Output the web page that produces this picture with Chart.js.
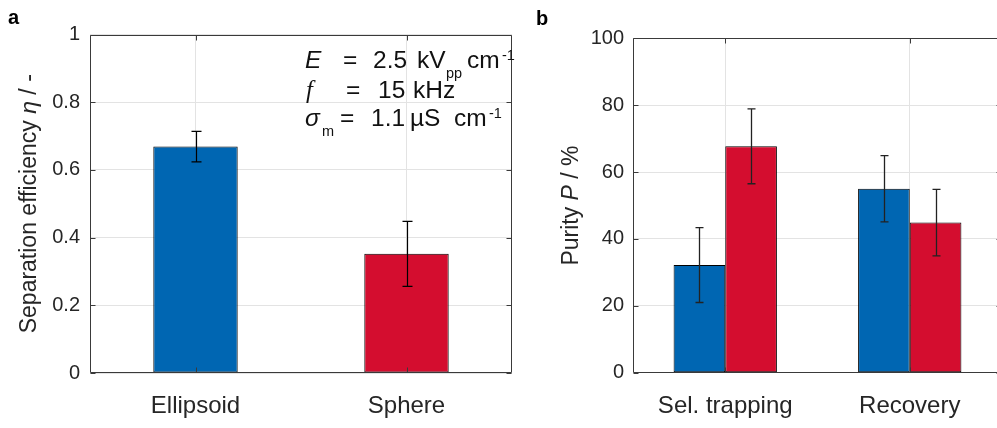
<!DOCTYPE html>
<html>
<head>
<meta charset="utf-8">
<script src="https://cdn.jsdelivr.net/npm/chart.js@4"></script>
<style>
  html, body { margin: 0; padding: 0; background: #fff; width: 997px; height: 428px; overflow: hidden; }
  .panel { position: absolute; top: 0; height: 428px; }
  #panelA { left: 0; width: 530px; }
  #panelB { left: 530px; width: 472px; }
</style>
</head>
<body>
<div class="panel" id="panelA"><canvas id="graficaA"></canvas></div>
<div class="panel" id="panelB"><canvas id="graficaB"></canvas></div>
<script>
/* ---------- datos ---------- */
// panel a: eficiencia de separacion
const categoriasA = ['Ellipsoid', 'Sphere'];
const eficiencia = [0.669, 0.352];
const eficienciaErr = [0.045, 0.096];
const ticksA = [0, 0.2, 0.4, 0.6, 0.8, 1];

// panel b: pureza
const categoriasB = ['Sel. trapping', 'Recovery'];
const purezaAzul = [32.2, 55.0];
const purezaAzulErr = [11.2, 9.9];
const purezaRoja = [67.7, 44.9];
const purezaRojaErr = [11.2, 9.95];
const ticksB = [0, 20, 40, 60, 80, 100];

/* ---------- estilo ---------- */
const FUENTE = '"Liberation Sans", Arial, Helvetica, sans-serif';
const SERIF = '"Liberation Serif", "Times New Roman", serif';
const AZUL = '#0066b2';
const ROJO = '#d40d2f';
const BORDE_BARRA = '#000';
const TEXTO = '#262626';
const GRID = '#e3e3e3';
const MARCO = '#3a3a3a';

/* texto con tramos (cursiva, sub/superindice) en x fijas */
function dibujarTramos(ctx, tramos, y, size) {
  tramos.forEach(t => {
    const s = t.sub || t.sup ? 14.5 : size;
    const fam = t.serif ? SERIF : FUENTE;
    ctx.font = `${t.it ? 'italic ' : ''}${s}px ${fam}`;
    const dy = t.sub ? 10 : t.sup ? -8 : 0;
    ctx.fillText(t.t, t.x, y + dy);
  });
}

function dibujarRotado(ctx, tramos, cx, cy, size) {
  // mide y centra sobre cy, texto de abajo hacia arriba
  let total = 0;
  const med = tramos.map(t => {
    ctx.font = `${t.it ? 'italic ' : ''}${size}px ${FUENTE}`;
    const w = ctx.measureText(t.t).width;
    total += w;
    return w;
  });
  ctx.save();
  ctx.translate(cx, cy);
  ctx.rotate(-Math.PI / 2);
  ctx.textBaseline = 'alphabetic';
  ctx.textAlign = 'left';
  let x = -total / 2;
  tramos.forEach((t, i) => {
    ctx.font = `${t.it ? 'italic ' : ''}${size}px ${FUENTE}`;
    ctx.fillText(t.t, x, 0);
    x += med[i];
  });
  ctx.restore();
}

/* ---------- plugins ---------- */
const barrasError = {
  id: 'barrasError',
  afterDatasetsDraw(chart, args, opts) {
    const { ctx } = chart;
    const y = chart.scales.y;
    chart.data.datasets.forEach((ds, i) => {
      const meta = chart.getDatasetMeta(i);
      meta.data.forEach((bar, j) => {
        const v = ds.data[j], e = ds.errores[j];
        const yHi = y.getPixelForValue(v + e);
        const yLo = y.getPixelForValue(v - e);
        const x = Math.round(bar.x) + 0.5;
        ctx.save();
        ctx.strokeStyle = opts.color || '#000';
        ctx.lineWidth = opts.ancho || 1.2;
        ctx.beginPath();
        ctx.moveTo(x, yHi); ctx.lineTo(x, yLo);
        ctx.moveTo(x - opts.cap, yHi); ctx.lineTo(x + opts.cap, yHi);
        ctx.moveTo(x - opts.cap, yLo); ctx.lineTo(x + opts.cap, yLo);
        ctx.stroke();
        ctx.restore();
      });
    });
  }
};

// marco tipo MATLAB con marcas hacia dentro
const marco = {
  id: 'marco',
  afterDraw(chart, args, opts) {
    const { ctx, chartArea: a } = chart;
    const L = 5;
    ctx.save();
    ctx.strokeStyle = MARCO;
    ctx.lineWidth = 1;
    ctx.beginPath();
    const l = Math.round(a.left) + 0.5, r = Math.round(a.right) - 0.5;
    const t = Math.round(a.top) + 0.5, b = Math.round(a.bottom) - 0.5;
    ctx.moveTo(l, t); ctx.lineTo(r, t); ctx.lineTo(r, b); ctx.lineTo(l, b); ctx.closePath();
    chart.scales.y.ticks.forEach(tk => {
      const p = Math.round(chart.scales.y.getPixelForValue(tk.value)) + 0.5;
      ctx.moveTo(l, p); ctx.lineTo(l + L, p);
      ctx.moveTo(r, p); ctx.lineTo(r - L, p);
    });
    chart.scales.x.ticks.forEach((tk, i) => {
      const p = Math.round(chart.scales.x.getPixelForTick(i)) + 0.5;
      ctx.moveTo(p, t); ctx.lineTo(p, t + L);
      ctx.moveTo(p, b); ctx.lineTo(p, b - L);
    });
    ctx.stroke();
    ctx.restore();
  }
};

// titulos de eje, letra de panel y anotacion
const textos = {
  id: 'textos',
  afterDraw(chart, args, opts) {
    const { ctx, chartArea: a } = chart;
    ctx.save();
    ctx.textBaseline = 'alphabetic';
    ctx.textAlign = 'left';
    ctx.font = `bold 20px ${FUENTE}`;
    ctx.fillStyle = '#000';
    ctx.fillText(opts.letra, opts.letraX, opts.letraY);
    ctx.fillStyle = TEXTO;
    dibujarRotado(ctx, opts.titulo, opts.tituloX, (a.top + a.bottom) / 2, opts.tituloSize);
    ctx.fillStyle = '#111';
    if (opts.anotacion) {
      opts.anotacion.forEach(linea => dibujarTramos(ctx, linea.tramos, linea.y, 24.5));
    }
    ctx.restore();
  }
};

function ejes(ticks, ejeX, ejeY, padTick) {
  return {
    x: {
      grid: { color: GRID, offset: false, drawTicks: false },
      border: { display: false },
      ticks: { color: TEXTO, font: { family: FUENTE, size: 24 }, padding: 19 },
      afterFit: s => { s.height = ejeX; },
    },
    y: {
      min: ticks[0], max: ticks[ticks.length - 1],
      afterBuildTicks: s => { s.ticks = ticks.map(v => ({ value: v })); },
      grid: { color: GRID, drawTicks: false },
      border: { display: false },
      ticks: { color: TEXTO, font: { family: FUENTE, size: 20 }, padding: padTick,
               callback: v => String(v) },
      afterFit: s => { s.width = ejeY; },
    },
  };
}

Chart.defaults.animation = false;

/* ---------- panel a ---------- */
new Chart(document.getElementById('graficaA'), {
  type: 'bar',
  data: {
    labels: categoriasA,
    datasets: [{
      data: eficiencia,
      errores: eficienciaErr,
      backgroundColor: [AZUL, ROJO],
      borderColor: BORDE_BARRA,
      borderWidth: 1,
      borderSkipped: false,
      inflateAmount: 0,
      barPercentage: 0.4,
      categoryPercentage: 1,
    }],
  },
  options: {
    responsive: true,
    maintainAspectRatio: false,
    layout: { padding: { top: 34.5, right: 18, left: 0, bottom: 0 } },
    plugins: {
      legend: { display: false },
      tooltip: { enabled: false },
      barrasError: { cap: 5, ancho: 1.2, color: '#000' },
      textos: {
        letra: 'a', letraX: 8, letraY: 24,
        titulo: [{ t: 'Separation efficiency ' }, { t: 'η', it: true }, { t: ' / -' }],
        tituloX: 36, tituloSize: 23,
        anotacion: [
          { y: 68, tramos: [
            { t: 'E', it: true, x: 305 }, { t: '=', x: 343 }, { t: '2.5', x: 373 }, { t: 'kV', x: 417 },
            { t: 'pp', sub: true, x: 446 }, { t: 'cm', x: 467 }, { t: '-1', sup: true, x: 502 } ] },
          { y: 98, tramos: [
            { t: 'f', it: true, serif: true, x: 306 }, { t: '=', x: 346 }, { t: '15', x: 378 }, { t: 'kHz', x: 413 } ] },
          { y: 126, tramos: [
            { t: 'σ', it: true, x: 305 }, { t: 'm', sub: true, x: 322 }, { t: '=', x: 340 },
            { t: '1.1', x: 371 }, { t: 'µS', x: 410 }, { t: 'cm', x: 454 }, { t: '-1', sup: true, x: 489 } ] },
        ],
      },
    },
    scales: ejes(ticksA, 55, 90, 10),
  },
  plugins: [barrasError, marco, textos],
});

/* ---------- panel b ---------- */
new Chart(document.getElementById('graficaB'), {
  type: 'bar',
  data: {
    labels: categoriasB,
    datasets: [
      { data: purezaAzul, errores: purezaAzulErr, backgroundColor: AZUL,
        borderColor: BORDE_BARRA, borderWidth: 1, borderSkipped: false, inflateAmount: 0,
        barPercentage: 1, categoryPercentage: 0.56 },
      { data: purezaRoja, errores: purezaRojaErr, backgroundColor: ROJO,
        borderColor: BORDE_BARRA, borderWidth: 1, borderSkipped: false, inflateAmount: 0,
        barPercentage: 1, categoryPercentage: 0.56 },
    ],
  },
  options: {
    responsive: true,
    maintainAspectRatio: false,
    layout: { padding: { top: 38.3, right: 0, left: 0, bottom: 0 } },
    plugins: {
      legend: { display: false },
      tooltip: { enabled: false },
      barrasError: { cap: 4, ancho: 1.3, color: '#222' },
      textos: {
        letra: 'b', letraX: 6, letraY: 25,
        titulo: [{ t: 'Purity ' }, { t: 'P', it: true }, { t: ' / %' }],
        tituloX: 47.5, tituloSize: 23,
      },
    },
    scales: ejes(ticksB, 55.3, 103, 9),
  },
  plugins: [barrasError, marco, textos],
});
</script>
</body>
</html>
